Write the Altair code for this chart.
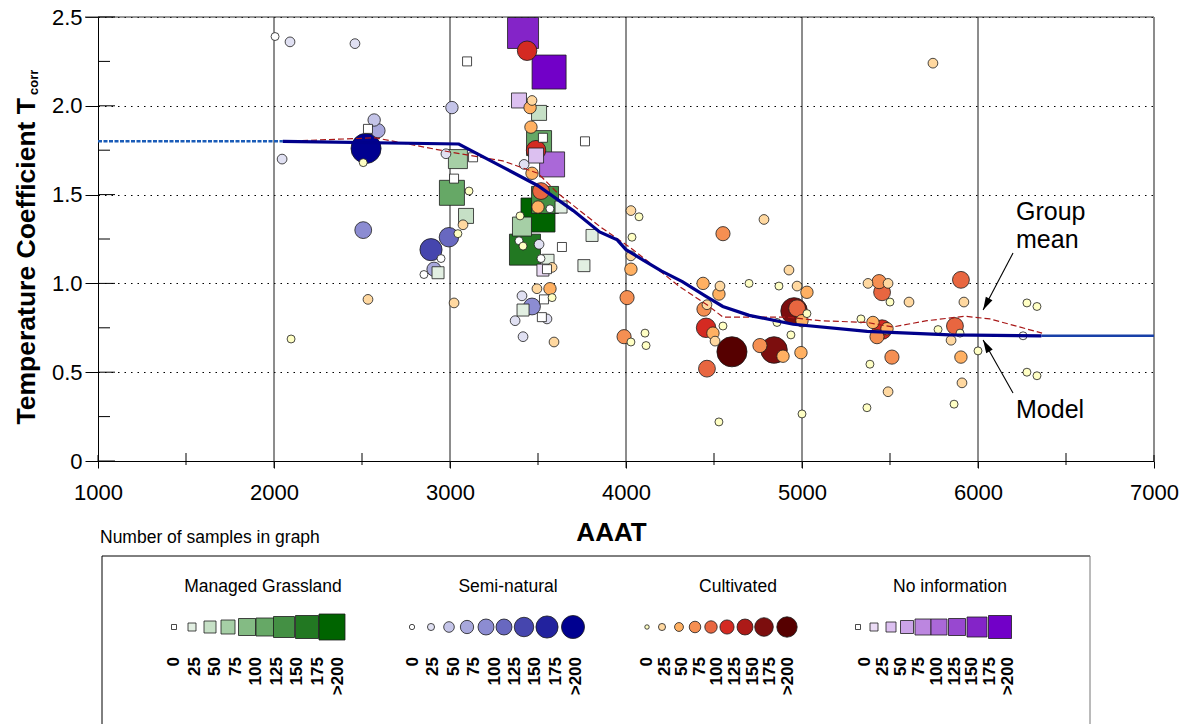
import math
import altair as alt
import pandas as pd

FONT = "Liberation Sans"

# ---------------- data ----------------
# Semi-natural (circles)
sn_x = [2006, 2091, 2460, 2569, 2591, 2523, 2046, 2507, 3011, 2977, 2994, 2892, 2949, 2909, 2852,
        3421, 3568, 3392, 3506, 3517, 3409, 3466, 3551, 3370, 3415, 6256]
sn_y = [2.39, 2.36, 2.35, 1.92, 1.86, 1.76, 1.70, 1.30, 1.99, 1.73, 1.26, 1.19, 1.14, 1.08, 1.05,
        1.67, 1.42, 1.24, 1.22, 1.14, 0.93, 0.87, 0.80, 0.79, 0.70, 0.705]
sn_lvl = [0, 1, 1, 2, 3, 8, 1, 4, 2, 1, 5, 6, 0, 3, 0, 1, 0, 0, 1, 0, 1, 4, 1, 1, 1, 0]

# Managed grassland (squares)
mg_x = [2534, 3097, 3045, 3131, 3023, 3011, 3091, 2932, 3506, 3506, 3528, 3767, 3540, 3500, 3631,
        3807, 3409, 3426, 3636, 3557, 3551, 3761, 3534, 3415, 3522]
mg_y = [1.87, 2.25, 1.70, 1.71, 1.59, 1.51, 1.38, 1.06, 1.96, 1.79, 1.82, 1.80, 1.47, 1.385, 1.43,
        1.27, 1.32, 1.19, 1.205, 1.13, 1.08, 1.10, 0.91, 0.85, 0.81]
mg_lvl = [0, 0, 3, 0, 0, 5, 2, 1, 2, 5, 0, 0, 6, 8, 1, 1, 3, 7, 0, 1, 0, 1, 0, 1, 0]

# No information (squares)
ni_x = [3415, 3563, 3392, 3489, 3580, 3528]
ni_y = [2.41, 2.19, 2.03, 1.72, 1.67, 1.075]
ni_lvl = [7, 8, 2, 2, 5, 1]

# Cultivated (circles)
cu_x = [2507, 2097, 2534, 3108, 3074, 3045, 3023, 3438, 3466, 3455,
        3460, 3489, 3466, 3517, 3500, 3398, 3415, 3580, 3494, 3568,
        3580, 3591, 4028, 4074, 4034, 4028, 4028, 4006, 3989, 4028,
        4108, 4114, 4784, 4551, 4699, 4926, 4869, 4972, 5028, 4438,
        4534, 4528, 4443, 4455, 4551, 4494, 4506, 4602, 4460, 4528,
        4955, 4972, 5000, 5028, 4858, 4937, 4761, 4841, 4892, 4994,
        5000, 5375, 5438, 5455, 5489, 5500, 5608, 5335, 5403, 5455,
        5426, 5483, 5511, 5386, 5489, 5369, 5903, 5920, 5869, 5773,
        5898, 5847, 5903, 5909, 5864, 6000, 6278, 6335, 6278, 6335,
        5744, 4460]
cu_y = [1.68, 0.687, 0.91, 1.52, 1.33, 1.28, 0.89, 2.31, 2.03, 1.99,
        1.88, 1.75, 1.62, 1.52, 1.43, 1.38, 1.21, 1.09, 0.97, 0.97,
        0.92, 0.67, 1.41, 1.375, 1.26, 1.155, 1.08, 0.92, 0.70, 0.67,
        0.72, 0.65, 1.36, 1.28, 1.00, 1.075, 0.985, 0.985, 0.95, 1.00,
        0.985, 0.94, 0.855, 0.75, 0.76, 0.72, 0.675, 0.615, 0.52, 0.22,
        0.845, 0.86, 0.79, 0.83, 0.78, 0.71, 0.65, 0.625, 0.59, 0.61,
        0.265, 1.00, 1.01, 0.95, 1.00, 0.895, 0.895, 0.80, 0.78, 0.74,
        0.70, 0.745, 0.585, 0.545, 0.39, 0.30, 1.02, 0.895, 0.76, 0.74,
        0.72, 0.68, 0.585, 0.44, 0.32, 0.62, 0.89, 0.87, 0.50, 0.48,
        2.24, 0.88]
cu_lvl = [0, 0, 1, 0, 1, 0, 1, 5, 1, 2,
          2, 5, 2, 4, 2, 0, 0, 1, 1, 2,
          0, 1, 1, 0, 0, 1, 2, 3, 3, 0,
          0, 0, 1, 3, 0, 1, 0, 1, 2, 2,
          1, 2, 3, 5, 0, 2, 1, 8, 4, 0,
          7, 4, 2, 0, 0, 0, 3, 7, 2, 2,
          0, 1, 3, 4, 1, 0, 1, 0, 2, 5,
          3, 2, 3, 0, 1, 0, 4, 1, 4, 0,
          0, 1, 2, 1, 0, 0, 0, 0, 0, 0,
          1, 1]

# Group mean (dashed) and model (solid) curves
gm_x = [2057, 2574, 3000, 3300, 3500, 3610, 3852, 4040, 4307, 4460, 4551, 4915, 5102, 5369, 5517,
        5710, 5926, 6068, 6364]
gm_y = [1.80, 1.82, 1.74, 1.69, 1.62, 1.51, 1.32, 1.19, 0.98, 0.88, 0.81, 0.81, 0.79, 0.78, 0.755,
        0.79, 0.815, 0.80, 0.72]
md_x = [2050, 3050, 3300, 3500, 3700, 3850, 3950, 4000, 4100, 4200, 4320, 4450, 4550, 4700, 4950,
        5370, 5840, 6360]
md_y = [1.80, 1.785, 1.655, 1.55, 1.41, 1.29, 1.245, 1.19, 1.13, 1.07, 1.01, 0.93, 0.87, 0.82, 0.77,
        0.73, 0.71, 0.705]
ext_left_x = [1000, 2050]
ext_left_y = [1.80, 1.80]
ext_right_x = [6360, 7000]
ext_right_y = [0.705, 0.705]

# Annotations
ann_text = ["Group", "mean", "Model"]
ann_x = [6216, 6216, 6216]
ann_y = [1.402, 1.244, 0.287]
arrow_x = [6199, 6199]
arrow_y = [1.171, 0.383]
arrow_tip_x = [6029, 6029]
arrow_tip_y = [0.850, 0.681]

# Axis values
x_ticks = [1000, 2000, 3000, 4000, 5000, 6000, 7000]
x_minor = [1500, 2500, 3500, 4500, 5500, 6500]
x_grid = [2000, 3000, 4000, 5000, 6000]
y_ticks = [0, 0.5, 1.0, 1.5, 2.0, 2.5]
y_minor = [0.25, 0.75, 1.25, 1.75, 2.25]

# Legend
leg_codes = ["G", "S", "C", "N"]
leg_titles = ["Managed Grassland", "Semi-natural", "Cultivated", "No information"]
leg_labels = ["0", "25", "50", "75", "100", "125", "150", "175", ">200"]

# ---------------- styles ----------------
colors = {
    "G": ["#ffffff", "#e2efe2", "#c6e0c6", "#a6cfa6", "#84bb84", "#66a866", "#449044", "#227822", "#006400"],
    "S": ["#ffffff", "#e0e0f2", "#c4c4e8", "#a8a8dc", "#8c8cd2", "#6868c0", "#4646ae", "#22229e", "#000090"],
    "C": ["#ffffc4", "#ffd8a0", "#ffb062", "#f58f52", "#e86640", "#d42a22", "#ac1a18", "#7c0e0e", "#560000"],
    "N": ["#ffffff", "#ecdcf6", "#dcc0f0", "#cca4e8", "#bc86e0", "#aa68d8", "#9848d0", "#8424c8", "#7200c8"],
}
shape_of = {"G": "square", "S": "circle", "C": "circle", "N": "square"}
plot_circle_d = [9, 11, 14, 16, 19, 22, 25, 30, 34]
plot_square_s = [9, 12, 15, 19, 21, 25, 27, 31, 34]
leg_size = {
    "G": [5, 8, 12, 14, 17, 18, 21, 23, 26],
    "S": [6, 8, 12, 15, 18, 18, 22, 25, 26],
    "C": [5, 8, 10, 13, 14, 16, 18, 21, 23],
    "N": [5, 8, 10, 13, 16, 16, 17, 20, 23],
}
# legend layout (page pixels)
leg_sw_start = [174, 412, 647, 858]
leg_sw_off = [[0, 18, 36, 54, 73, 91, 110, 133, 158],
              [0, 19, 37, 55, 74, 92, 112, 135, 161],
              [0, 15, 32, 48, 64, 80, 98, 117, 140],
              [0, 16, 33, 49, 65, 81, 99, 119, 142]]
leg_lb_start = [174, 413, 647, 865]
leg_lb_step = [20.5, 20.4, 17.6, 17.9]
leg_title_x = [263, 508, 738, 950]
PX0, PY0 = 98, 17  # plot origin on page


def area(shape, d):
    return d * d if shape == "square" else math.pi * d * d / 4


rows = []
for code, xs_, ys_, ls_ in [("G", mg_x, mg_y, mg_lvl), ("S", sn_x, sn_y, sn_lvl),
                            ("C", cu_x, cu_y, cu_lvl), ("N", ni_x, ni_y, ni_lvl)]:
    shp = shape_of[code]
    for xv, yv, lv in zip(xs_, ys_, ls_):
        d = plot_square_s[lv] if shp == "square" else plot_circle_d[lv]
        rows.append({"x": xv, "y": yv, "key": f"{code}{lv}", "shape": shp, "area": area(shp, d)})
pts = pd.DataFrame(rows).sort_values("area", ascending=False, kind="stable")

keys = [f"{c}{k}" for c in leg_codes for k in range(9)]
key_colors = [colors[c][k] for c in leg_codes for k in range(9)]
fill_scale = alt.Scale(domain=keys, range=key_colors)
shape_scale = alt.Scale(domain=["circle", "square"], range=["circle", "square"])

xs = alt.Scale(domain=[1000, 7000], nice=False, zero=False)
ys = alt.Scale(domain=[0, 2.5], nice=False, zero=False)
x_axis = alt.Axis(values=x_ticks, grid=False, ticks=True, tickSize=7, tickColor="black",
                  domain=True, domainColor="black", domainWidth=1,
                  labelFontSize=22, labelColor="black", labelPadding=14, labelFlush=False,
                  format="d", title="AAAT", titleFontSize=26, titleFontWeight="bold",
                  titleColor="black", titleX=513, titleY=71, titleBaseline="middle",
                  titleAlign="center")
y_axis = alt.Axis(values=y_ticks, grid=True, gridColor="black", gridDash=[1.5, 5], gridWidth=1.2,
                  ticks=True, tickSize=13, tickColor="black", domain=True, domainColor="black",
                  labelFontSize=22, labelColor="black", labelPadding=3, labelFlush=False,
                  labelExpr="datum.value == 0 ? '0' : format(datum.value, '.1f')", title=None)
xenc = alt.X("x:Q", scale=xs, axis=x_axis)
yenc = alt.Y("y:Q", scale=ys, axis=y_axis)

# --------- main plot layers ---------
vgrid = alt.Chart(pd.DataFrame({"x": x_grid})).mark_rule(color="#1a1a1a", strokeWidth=1).encode(
    x=xenc, y=alt.value(0), y2=alt.value(451))
xminor = alt.Chart(pd.DataFrame({"x": x_minor})).mark_rule(color="black", strokeWidth=1).encode(
    x=xenc, y=alt.value(436), y2=alt.value(448))
xmajor_in = alt.Chart(pd.DataFrame({"x": [1000, 7000]})).mark_rule(color="black", strokeWidth=1).encode(
    x=xenc, y=alt.value(438), y2=alt.value(444))
ymajor_in = alt.Chart(pd.DataFrame({"y": y_ticks})).mark_rule(color="black", strokeWidth=1).encode(
    y=yenc, x=alt.value(0), x2=alt.value(17))
yminor_in = alt.Chart(pd.DataFrame({"y": y_minor})).mark_rule(color="black", strokeWidth=1).encode(
    y=yenc, x=alt.value(0), x2=alt.value(12))
top_frame = alt.Chart(pd.DataFrame({"y": [2.5]})).mark_rule(color="#333", strokeWidth=1).encode(
    y=yenc, x=alt.value(-13), x2=alt.value(1056))
right_frame = alt.Chart(pd.DataFrame({"x": [7000]})).mark_rule(color="#8c8c8c", strokeWidth=2).encode(
    x=xenc, y=alt.value(0), y2=alt.value(444))

points = alt.Chart(pts).mark_point(filled=True, opacity=1, stroke="#1c1c1c", strokeWidth=0.8,
                                   strokeOpacity=1).encode(
    x=xenc, y=yenc,
    fill=alt.Fill("key:N", scale=fill_scale, legend=None),
    shape=alt.Shape("shape:N", scale=shape_scale, legend=None),
    size=alt.Size("area:Q", scale=None),
)

ext_left = alt.Chart(pd.DataFrame({"x": ext_left_x, "y": ext_left_y})).mark_line(
    color="#1a5cb8", strokeWidth=2.6, strokeDash=[4, 1.5]).encode(x=xenc, y=yenc)
ext_right = alt.Chart(pd.DataFrame({"x": ext_right_x, "y": ext_right_y})).mark_line(
    color="#1840a8", strokeWidth=2.4).encode(x=xenc, y=yenc)
gmean = alt.Chart(pd.DataFrame({"x": gm_x, "y": gm_y})).mark_line(
    color="#a81818", strokeWidth=1.2, strokeDash=[6, 3]).encode(x=xenc, y=yenc)
model = alt.Chart(pd.DataFrame({"x": md_x, "y": md_y})).mark_line(
    color="#00008b", strokeWidth=3.2).encode(x=xenc, y=yenc)

arr_df = pd.DataFrame({"x": arrow_x, "y": arrow_y, "x2": arrow_tip_x, "y2": arrow_tip_y,
                       "ang": [207.8, 330.5]})
arrows = alt.Chart(arr_df).mark_rule(color="black", strokeWidth=1.1).encode(
    x=xenc, y=yenc, x2="x2:Q", y2="y2:Q")
heads = alt.Chart(arr_df).mark_point(shape="M0,0L0.55,1.9L-0.55,1.9Z", filled=True, color="black",
                                     opacity=1, size=185).encode(
    x=alt.X("x2:Q", scale=xs, axis=x_axis), y=alt.Y("y2:Q", scale=ys, axis=y_axis),
    angle=alt.Angle("ang:Q", scale=None))
ann = alt.Chart(pd.DataFrame({"x": ann_x, "y": ann_y, "t": ann_text})).mark_text(
    fontSize=25, align="left", baseline="middle", color="black").encode(x=xenc, y=yenc, text="t:N")

ytitle = alt.Chart(pd.DataFrame({"t": ["Temperature Coefficient T"]})).mark_text(
    fontSize=26.5, fontWeight="bold", angle=270, align="right", baseline="alphabetic", color="black").encode(
    text="t:N", x=alt.value(-63), y=alt.value(81))
ysub = alt.Chart(pd.DataFrame({"t": ["corr"]})).mark_text(
    fontSize=13, fontWeight="bold", angle=270, align="left", baseline="alphabetic", color="black").encode(
    text="t:N", x=alt.value(-60), y=alt.value(78))

main = alt.layer(vgrid, top_frame, right_frame, points, ext_left, ext_right, gmean, model,
                 arrows, heads, ann, xminor, xmajor_in, ymajor_in, yminor_in, ytitle, ysub)

# --------- legend layers ---------
lrows = []
for gi, code in enumerate(leg_codes):
    shp = shape_of[code]
    for k in range(9):
        lrows.append({
            "lx": leg_sw_start[gi] + leg_sw_off[gi][k] - PX0,
            "lbx": leg_lb_start[gi] + k * leg_lb_step[gi] - PX0,
            "key": f"{code}{k}", "shape": shp,
            "area": area(shp, leg_size[code][k]),
            "label": leg_labels[k],
        })
ldf = pd.DataFrame(lrows)
lscale = alt.Scale(domain=[0, 1056], range=[0, 1056], nice=False, zero=False)

sw = alt.Chart(ldf).mark_point(filled=True, opacity=1, stroke="#1c1c1c", strokeWidth=0.8).encode(
    x=alt.X("lx:Q", scale=lscale, axis=None),
    y=alt.value(627 - PY0),
    fill=alt.Fill("key:N", scale=fill_scale, legend=None),
    shape=alt.Shape("shape:N", scale=shape_scale, legend=None),
    size=alt.Size("area:Q", scale=None),
)
lab = alt.Chart(ldf).mark_text(fontSize=17, fontWeight="bold", angle=270, align="right",
                               baseline="middle", color="black").encode(
    x=alt.X("lbx:Q", scale=lscale, axis=None), y=alt.value(657 - PY0), text="label:N")
tdf = pd.DataFrame({"tx": [v - PX0 for v in leg_title_x], "t": leg_titles})
ltitle = alt.Chart(tdf).mark_text(fontSize=17.5, align="center", baseline="middle", color="black").encode(
    x=alt.X("tx:Q", scale=lscale, axis=None), y=alt.value(587 - PY0), text="t:N")
caption = alt.Chart(pd.DataFrame({"t": ["Number of samples in graph"]})).mark_text(
    fontSize=17.5, align="left", baseline="middle", color="black").encode(
    text="t:N", x=alt.value(2), y=alt.value(538 - PY0))
box_top = alt.Chart(pd.DataFrame({"t": [0]})).mark_rule(color="black", strokeWidth=1).encode(
    x=alt.value(4), x2=alt.value(992), y=alt.value(539))
box_left = alt.Chart(pd.DataFrame({"t": [0]})).mark_rule(color="black", strokeWidth=1).encode(
    x=alt.value(4), y=alt.value(539), y2=alt.value(800))
box_right = alt.Chart(pd.DataFrame({"t": [0]})).mark_rule(color="#777", strokeWidth=1).encode(
    x=alt.value(992), y=alt.value(539), y2=alt.value(800))

legend = alt.layer(box_top, box_left, box_right, caption, ltitle, sw, lab)

chart = alt.layer(main, legend).resolve_scale(x="independent").properties(
    width=1056, height=444,
    autosize=alt.AutoSizeParams(type="none"),
    padding={"left": 90, "top": 9, "right": 30, "bottom": 263},
).configure(font=FONT).configure_view(stroke=None)

chart.save("out.html", embed_options={"renderer": "svg", "actions": False})
